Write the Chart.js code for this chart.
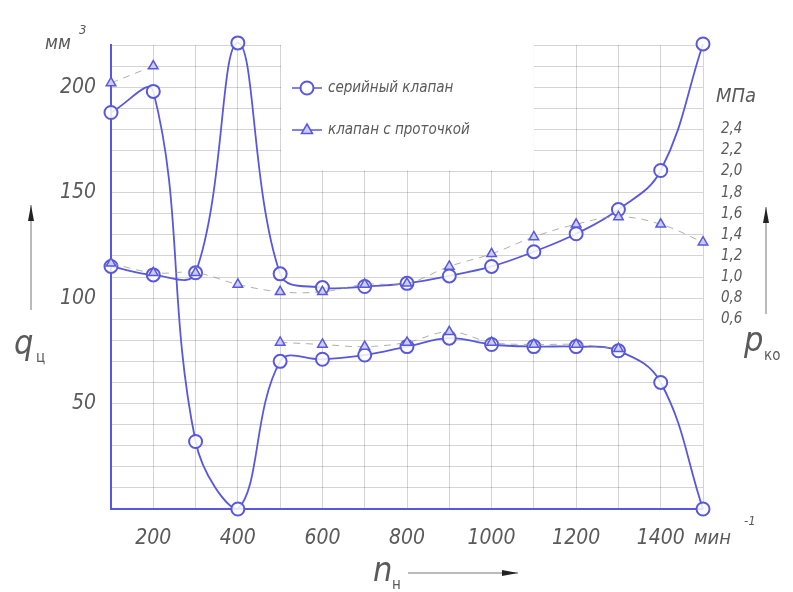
<!DOCTYPE html>
<html>
<head>
<meta charset="utf-8">
<script src="https://cdn.jsdelivr.net/npm/chart.js@4"></script>
<style>
  html, body { margin: 0; padding: 0; background: #fff; }
  #wrap { width: 793px; height: 592px; }
</style>
</head>
<body>
<div id="wrap"><canvas id="chart" width="793" height="592"></canvas></div>
<script>
// --------------------------------
// || Data
// --------------------------------

// n_н, мин^-1
const speeds = [100, 200, 300, 400, 500, 600, 700, 800, 900, 1000, 1100, 1200, 1300, 1400, 1500];

// q_ц, мм3 (left axis)
const qSerial = [188, 198, 32, 0, 70, 71, 73, 77, 81, 78, 77, 77, 75, 60, 0];
const qGroove = [202, 210, null, null, 79, 78, 77, 79, 84, 79, 78, 78, 76, null, null];

// p_ко, МПа (right axis)
const pSerial = [1.10, 1.02, 1.04, 3.22, 1.03, 0.90, 0.91, 0.94, 1.01, 1.10, 1.24, 1.41, 1.64, 2.01, 3.21];
const pGroove = [1.13, 1.04, 1.04, 0.93, 0.86, 0.86, 0.93, 0.94, 1.10, 1.22, 1.38, 1.50, 1.57, 1.50, 1.33];

const xLabels = [200, 400, 600, 800, 1000, 1200, 1400];
const qLabels = [50, 100, 150, 200];
const pLabels = [0.6, 0.8, 1.0, 1.2, 1.4, 1.6, 1.8, 2.0, 2.2, 2.4];

const seriesNames = ['серийный клапан', 'клапан с проточкой'];

// --------------------------------
// || Styles
// --------------------------------

const blue = 'rgb(88, 88, 222)';
const dashGrey = 'rgba(150, 150, 140, 0.75)';
const textGrey = '#5a5a5a';
const gridGrey = 'rgba(0, 0, 0, 0.17)';
const fontFam = '"Liberation Sans Narrow", "DejaVu Sans Condensed", "Liberation Sans", sans-serif';

const toPoints = (arr) => speeds.map((x, i) => ({ x: x, y: arr[i] }));

function fixSize(w, h) {
    return function (scale) {
        if (w !== undefined) scale.width = w;
        if (h !== undefined) scale.height = h;
    };
}

function arrow(ctx, x1, y1, x2, y2) {
    ctx.beginPath();
    ctx.moveTo(x1, y1);
    ctx.lineTo(x2, y2);
    ctx.stroke();
    const a = Math.atan2(y2 - y1, x2 - x1);
    ctx.beginPath();
    ctx.moveTo(x2, y2);
    ctx.lineTo(x2 - 16 * Math.cos(a) + 3 * Math.sin(a), y2 - 16 * Math.sin(a) - 3 * Math.cos(a));
    ctx.lineTo(x2 - 16 * Math.cos(a) - 3 * Math.sin(a), y2 - 16 * Math.sin(a) + 3 * Math.cos(a));
    ctx.closePath();
    ctx.fill();
}

// white box for the legend, covers the grid
const legendBox = {
    id: 'legendBox',
    beforeDatasetsDraw(chart) {
        const { ctx, scales } = chart;
        const x1 = scales.x.getPixelForValue(500);
        const x2 = scales.x.getPixelForValue(1100);
        const y1 = scales.y.getPixelForValue(220);
        const y2 = scales.y.getPixelForValue(160);
        ctx.save();
        ctx.fillStyle = '#fff';
        ctx.fillRect(x1 + 1, y1 - 1, x2 - x1 - 1, y2 - y1);
        ctx.restore();
    },
    afterDraw(chart) {
        const { ctx } = chart;
        ctx.save();

        // legend
        ctx.strokeStyle = blue;
        ctx.lineWidth = 1.5;
        ctx.beginPath();
        ctx.moveTo(292, 88); ctx.lineTo(322, 88);
        ctx.moveTo(292, 130); ctx.lineTo(322, 130);
        ctx.stroke();
        ctx.fillStyle = '#fff';
        ctx.lineWidth = 2;
        ctx.beginPath();
        ctx.arc(307, 88, 6.5, 0, Math.PI * 2);
        ctx.fill(); ctx.stroke();
        ctx.fillStyle = 'rgba(205, 205, 250, 1)';
        ctx.lineWidth = 1.5;
        ctx.beginPath();
        ctx.moveTo(307, 124); ctx.lineTo(312.5, 133.5); ctx.lineTo(301.5, 133.5);
        ctx.closePath();
        ctx.fill(); ctx.stroke();

        ctx.fillStyle = textGrey;
        ctx.textBaseline = 'middle';
        ctx.textAlign = 'left';
        ctx.font = 'italic 15px ' + fontFam;
        ctx.fillText(seriesNames[0], 328, 88);
        ctx.fillText(seriesNames[1], 328, 130);

        // axis names
        ctx.font = 'italic 19px ' + fontFam;
        ctx.fillText('мм', 45, 44);
        ctx.font = 'italic 13px ' + fontFam;
        ctx.fillText('3', 79, 31);

        ctx.font = 'italic 20px ' + fontFam;
        ctx.fillText('МПа', 716, 97);

        ctx.font = 'italic 20px ' + fontFam;
        ctx.fillText('мин', 694, 539);
        ctx.font = 'italic 13px ' + fontFam;
        ctx.fillText('-1', 744, 522);

        ctx.font = 'italic 34px ' + fontFam;
        ctx.fillText('q', 14, 345);
        ctx.fillText('p', 744, 342);
        ctx.fillText('n', 373, 572);
        ctx.font = '15px ' + fontFam;
        ctx.fillText('ц', 36, 358);
        ctx.fillText('ко', 764, 356);
        ctx.fillText('н', 392, 585);

        // arrows
        ctx.strokeStyle = '#777';
        ctx.fillStyle = '#222';
        ctx.lineWidth = 1;
        arrow(ctx, 31, 310, 31, 205);
        arrow(ctx, 766, 314, 766, 207);
        arrow(ctx, 408, 573, 518, 573);

        ctx.restore();
    }
};

// --------------------------------
// || Chart
// --------------------------------

const lineCommon = {
    tension: 0.4,
    clip: false,
    spanGaps: false
};

new Chart(document.getElementById('chart'), {
    type: 'line',
    data: {
        datasets: [
            Object.assign({
                label: seriesNames[1] + ' q',
                data: toPoints(qGroove),
                yAxisID: 'y',
                borderColor: dashGrey,
                borderWidth: 1,
                borderDash: [7, 6],
                pointStyle: 'triangle',
                pointRadius: 5.5,
                pointBorderColor: blue,
                pointBackgroundColor: 'rgba(205, 205, 250, 1)',
                pointBorderWidth: 1.5
            }, lineCommon),
            Object.assign({
                label: seriesNames[1] + ' p',
                data: toPoints(pGroove),
                yAxisID: 'y2',
                borderColor: dashGrey,
                borderWidth: 1,
                borderDash: [7, 6],
                pointStyle: 'triangle',
                pointRadius: 5.5,
                pointBorderColor: blue,
                pointBackgroundColor: 'rgba(205, 205, 250, 1)',
                pointBorderWidth: 1.5
            }, lineCommon),
            Object.assign({
                label: seriesNames[0] + ' q',
                data: toPoints(qSerial),
                yAxisID: 'y',
                borderColor: blue,
                borderWidth: 1.8,
                pointStyle: 'circle',
                pointRadius: 6.5,
                pointBorderColor: blue,
                pointBackgroundColor: 'rgba(255, 255, 255, 0.85)',
                pointBorderWidth: 2
            }, lineCommon),
            Object.assign({
                label: seriesNames[0] + ' p',
                data: toPoints(pSerial),
                yAxisID: 'y2',
                borderColor: blue,
                borderWidth: 1.8,
                pointStyle: 'circle',
                pointRadius: 6.5,
                pointBorderColor: blue,
                pointBackgroundColor: 'rgba(255, 255, 255, 0.85)',
                pointBorderWidth: 2
            }, lineCommon)
        ]
    },
    options: {
        responsive: false,
        animation: false,
        devicePixelRatio: 1,
        layout: { padding: { top: 45, left: 0, right: 0, bottom: 0 } },
        plugins: {
            legend: { display: false },
            tooltip: { enabled: false }
        },
        scales: {
            x: {
                type: 'linear',
                min: 100,
                max: 1500,
                afterFit: fixSize(undefined, 83),
                border: { color: blue, width: 2 },
                grid: { color: gridGrey, drawTicks: false },
                ticks: {
                    stepSize: 100,
                    autoSkip: false,
                    maxRotation: 0,
                    padding: 17,
                    color: textGrey,
                    font: { family: fontFam, size: 21, style: 'italic' },
                    callback: (v) => xLabels.includes(v) ? String(v) : ''
                }
            },
            y: {
                position: 'left',
                min: 0,
                max: 220,
                afterFit: fixSize(111),
                border: { color: blue, width: 2 },
                grid: { color: gridGrey, drawTicks: false },
                ticks: {
                    stepSize: 10,
                    autoSkip: false,
                    padding: 15,
                    color: textGrey,
                    font: { family: fontFam, size: 21, style: 'italic' },
                    callback: (v) => qLabels.includes(v) ? String(v) : ''
                }
            },
            y2: {
                position: 'right',
                min: -1.2,
                max: 3.2,
                afterFit: fixSize(90),
                border: { display: false },
                grid: { drawOnChartArea: false, drawTicks: false },
                ticks: {
                    stepSize: 0.2,
                    autoSkip: false,
                    padding: 18,
                    color: textGrey,
                    font: { family: fontFam, size: 15, style: 'italic' },
                    callback: (v) => {
                        const r = Math.round(v * 10) / 10;
                        return pLabels.includes(r) ? r.toFixed(1).replace('.', ',') : '';
                    }
                }
            }
        }
    },
    plugins: [legendBox]
});
</script>
</body>
</html>
